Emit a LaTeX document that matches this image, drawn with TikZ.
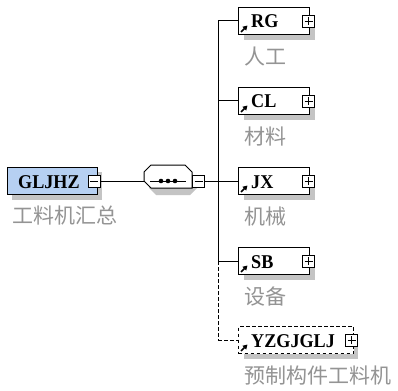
\documentclass[tikz,border=0pt]{standalone}
\usepackage{fontspec}
\setmainfont{Liberation Serif}[FakeStretch=0.93]
\newfontfamily\cjk{Noto Sans CJK SC}
\definecolor{boxblue}{HTML}{B6D0F2}
\definecolor{shadowgray}{HTML}{C4C4C4}
\definecolor{lbl}{HTML}{949494}
\usetikzlibrary{arrows.meta}
\tikzset{
  elem/.style={draw=black, line width=1pt, fill=white, minimum height=27pt, inner sep=0pt, anchor=west},
  elemtext/.style={font=\bfseries\fontsize{19.5}{19.5}\selectfont, anchor=base west, inner sep=0pt},
  cn/.style={font=\cjk\fontsize{21}{21}\selectfont, text=lbl, anchor=west, inner sep=0pt},
  pm/.style={draw=black, line width=0.8pt, fill=white, minimum size=12pt, inner sep=0pt},
  conn/.style={line width=1pt},
  dconn/.style={line width=1pt, dash pattern=on 3.5pt off 2.5pt},
}
\newcommand{\plusbox}[2]{%
  \node[pm] (#1) at (#2) {};
  \draw[line width=0.8pt] ([xshift=-4pt]#1.center) -- ([xshift=4pt]#1.center);
  \draw[line width=0.8pt] ([yshift=-4pt]#1.center) -- ([yshift=4pt]#1.center);}
\newcommand{\minusbox}[2]{%
  \node[pm] (#1) at (#2) {};
  \draw[line width=0.8pt] ([xshift=-4pt]#1.center) -- ([xshift=4pt]#1.center);}
\newcommand{\refarrow}[1]{%
  \draw[line width=1.5pt, -{Triangle[length=4.5pt,width=5pt]}] ([xshift=3pt,yshift=3pt]#1.south west) -- ++(6.5pt,6.5pt);}
\begin{document}
\begin{tikzpicture}[x=1pt,y=-1pt]
\useasboundingbox (0,0) rectangle (398,390);
\fill[white] (0,0) rectangle (398,390);

% root element
\fill[shadowgray] (12,172) rectangle (102,200);
\node[elem, fill=boxblue, minimum width=90pt] (root) at (7,181) {};
\node[elemtext] (roott) at (18,188) {GLJHZ};
\minusbox{rootm}{94,181}
\node[cn] (rootl) at (12,216) {工料机汇总};

% sequence compositor
\fill[shadowgray] (151,172) -- (190,172) -- (197,179) -- (197,188) -- (190,195) -- (156,195) -- (149,188) -- cycle;
\draw[line width=1pt, fill=white] (151,165) -- (185,165) -- (192,172) -- (192,188) -- (185,188) -- (151,188) -- (144,181) -- (144,172) -- cycle;
\node[inner sep=0pt] (seq) at (168,176.5) {};
\draw[line width=1pt] (150,181) -- (186,181);
\foreach \xx in {161,168,175} \fill (\xx,181) circle (2.3pt);
\minusbox{seqm}{198.5,181}
\draw[conn] (rootm.east) -- (144,181);

% junction
\coordinate (jtop) at (218,21);
\coordinate (jmid) at (218,181);
\coordinate (jsb) at (218,261);
\coordinate (jyz) at (218,340);
\draw[conn] (seqm.east) -- (jmid);
\draw[conn] (jtop) -- (jsb);
\draw[dconn] (jsb) -- (jyz);

% children
\foreach \nm/\yy/\lab/\cnl in {rg/21/RG/人工, cl/101/CL/材料, jx/181/JX/机械, sb/261/SB/设备}{
  \fill[shadowgray] (244,\yy+5) rectangle (315,\yy+19);
  \node[elem, minimum width=71pt] (\nm) at (238,\yy) {};
  \node[elemtext] (\nm t) at (251,\yy+7) {\lab};
  \plusbox{\nm p}{308.5,\yy}
  \refarrow{\nm}
  \node[cn] (\nm l) at (244,\yy+36) {\cnl};
  \draw[conn] (218,\yy) -- (\nm.west);
}
% optional child
\fill[shadowgray] (244,346) rectangle (358,359);
\node[elem, dconn, minimum width=115pt] (yz) at (238,340) {};
\node[elemtext] (yzt) at (251,347) {YZGJGLJ};
\plusbox{yzp}{351.5,340}
\refarrow{yz}
\node[cn] (yzl) at (244,376) {预制构件工料机};
\draw[dconn] (jyz) -- (yz.west);
\end{tikzpicture}
\end{document}
